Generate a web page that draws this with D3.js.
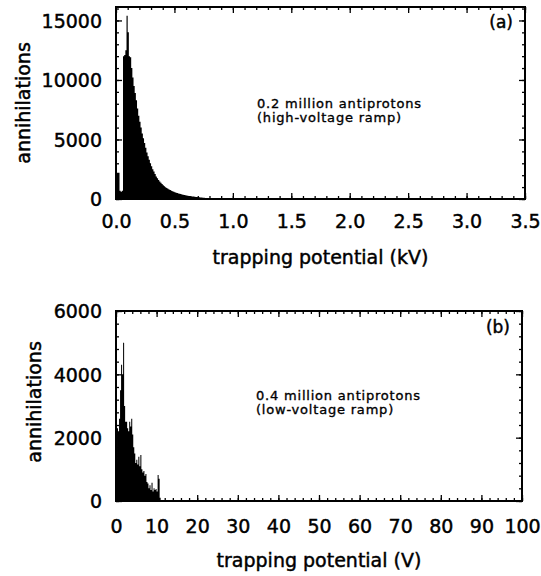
<!DOCTYPE html>
<html>
<head>
<meta charset="utf-8">
<script src="https://cdn.jsdelivr.net/npm/d3@7"></script>
<style>
  html, body { margin: 0; padding: 0; background: #fff; }
  svg { display: block; }
  text { font-family: "DejaVu Sans", "Liberation Sans", Arial, sans-serif; fill: #000; stroke: #000; stroke-width: 0.45px; }
</style>
</head>
<body>
<svg id="chart" width="541" height="576"></svg>
<script>
// ---------------- DATA ----------------
// Panel (a): high-voltage ramp, bins of 0.01 kV starting at 0 kV
const binWidthA = 0.01;
const countsA = [
  2200, 2200, 2200, 700, 600, 700, 12000, 12100, 12500, 15400,
  14000, 12000, 11900, 11000, 10200, 9500, 8900, 8300, 7600, 7000,
  6500, 6000, 5500, 5100, 4700, 4300, 3900, 3600, 3300, 3000,
  2750, 2500, 2300, 2100, 1900, 1750, 1600, 1480, 1370, 1260,
  1160, 1070, 990, 920, 860, 800, 750, 700, 650, 610,
  570, 530, 500, 470, 440, 410, 385, 360, 340, 320,
  300, 280, 260, 245, 230, 215, 200, 185, 170, 160,
  150, 140, 130, 120, 110, 100, 90, 85, 80, 75, 70
];
const xTicksA = [0, 0.5, 1.0, 1.5, 2.0, 2.5, 3.0, 3.5];
const yTicksA = [0, 5000, 10000, 15000];
const xDomainA = [0, 3.5];
const yDomainA = [0, 16130];

// Panel (b): low-voltage ramp, bins of 0.25 V starting at 0 V
const binWidthB = 0.25;
const countsB = [
  1200, 2300, 2200, 2600, 3500, 4300, 4000, 5000, 3000, 2500,
  2500, 2300, 2200, 2500, 2350, 2600, 2100, 1700, 1500, 1200,
  1300, 1150, 1400, 1100, 1450, 1000, 900, 950, 800, 850,
  600, 550, 400, 500, 350, 580, 300, 400, 350, 380,
  300, 820, 700, 100
];
const xTicksB = [0, 10, 20, 30, 40, 50, 60, 70, 80, 90, 100];
const yTicksB = [0, 2000, 4000, 6000];
const xDomainB = [0, 100];
const yDomainB = [0, 6000];

const labels = {
  xTitleA: "trapping potential (kV)",
  xTitleB: "trapping potential (V)",
  yTitle: "annihilations",
  noteA: ["0.2 million antiprotons", "(high-voltage ramp)"],
  noteB: ["0.4 million antiprotons", "(low-voltage ramp)"],
  tagA: "(a)",
  tagB: "(b)"
};

// ---------------- DRAW ----------------
const svg = d3.select("#chart");

function panel(cfg) {
  const { left, right, top, bottom } = cfg;
  const x = d3.scaleLinear().domain(cfg.xDomain).range([left, right]);
  const y = d3.scaleLinear().domain(cfg.yDomain).range([bottom, top]);
  const g = svg.append("g");

  const clipId = "clip" + cfg.id;
  svg.append("clipPath").attr("id", clipId)
    .append("rect").attr("x", left).attr("y", top)
    .attr("width", right - left).attr("height", bottom - top);

  // histogram as step area
  const pts = cfg.counts.map((v, i) => ({ x: i * cfg.binWidth, v }));
  const last = cfg.counts.length;
  pts.push({ x: last * cfg.binWidth, v: cfg.counts[last - 1] });
  const area = d3.area()
    .x(d => x(d.x)).y0(y(0)).y1(d => y(d.v))
    .curve(d3.curveStepAfter);
  g.append("path").datum(pts)
    .attr("clip-path", `url(#${clipId})`)
    .attr("d", area).attr("fill", "#000");

  // ticks (inward) on four sides
  function ticks(axisFn, scale, values, size, transform) {
    const ax = axisFn(scale).tickValues(values).tickSize(-size).tickFormat("");
    const gg = g.append("g").attr("transform", transform).call(ax);
    gg.select(".domain").remove();
    gg.selectAll("line").attr("stroke", "#000").attr("stroke-width", 1.3);
  }
  ticks(d3.axisBottom, x, cfg.xMinor, 3, `translate(0,${bottom})`);
  ticks(d3.axisBottom, x, cfg.xTicks, 6, `translate(0,${bottom})`);
  ticks(d3.axisTop, x, cfg.xMinor, 3, `translate(0,${top})`);
  ticks(d3.axisTop, x, cfg.xTicks, 6, `translate(0,${top})`);
  ticks(d3.axisLeft, y, cfg.yMinor, 3, `translate(${left},0)`);
  ticks(d3.axisLeft, y, cfg.yTicks, 6, `translate(${left},0)`);
  ticks(d3.axisRight, y, cfg.yMinor, 3, `translate(${right},0)`);
  ticks(d3.axisRight, y, cfg.yTicks, 6, `translate(${right},0)`);

  // frame
  g.append("rect").attr("x", left).attr("y", top)
    .attr("width", right - left).attr("height", bottom - top)
    .attr("fill", "none").attr("stroke", "#000").attr("stroke-width", 2);

  // tick labels
  const xa = g.append("g").attr("transform", `translate(0,${bottom})`)
    .call(d3.axisBottom(x).tickValues(cfg.xTicks).tickSize(0).tickFormat(cfg.xFormat));
  xa.select(".domain").remove();
  xa.selectAll("text").attr("y", cfg.xLabelOffset).attr("dy", 0)
    .style("font-size", "19px").style("font-family", null);

  const ya = g.append("g").attr("transform", `translate(${left},0)`)
    .call(d3.axisLeft(y).tickValues(cfg.yTicks).tickSize(0).tickFormat(d3.format("d")));
  ya.select(".domain").remove();
  ya.selectAll("text").attr("x", -14).attr("dy", "0.36em")
    .style("font-size", "19px").style("font-family", null);

  // axis titles
  g.append("text").attr("x", (left + right) / 2).attr("y", cfg.xTitleY)
    .attr("text-anchor", "middle").style("font-size", "19px").text(cfg.xTitle);
  g.append("text")
    .attr("transform", `translate(${cfg.yTitleX},${cfg.yTitleY}) rotate(-90)`)
    .attr("text-anchor", "middle").style("font-size", "19px").text(labels.yTitle);

  // annotation
  cfg.note.forEach((s, i) => {
    g.append("text").attr("x", cfg.noteX).attr("y", cfg.noteY + i * 14)
      .style("font-size", "13px").style("letter-spacing", "0.8px")
      .style("stroke-width", "0.35px").text(s);
  });
  g.append("text").attr("x", right - 12).attr("y", cfg.tagY)
    .attr("text-anchor", "end").style("font-size", "17px").text(cfg.tag);
}

const minorRange = (a, b, s) => d3.range(Math.round(a / s), Math.round(b / s) + 1).map(k => +(k * s).toFixed(6));

panel({
  id: "A", left: 116, right: 525, top: 7, bottom: 199,
  xDomain: xDomainA, yDomain: yDomainA,
  counts: countsA, binWidth: binWidthA,
  xTicks: xTicksA, yTicks: yTicksA,
  xMinor: minorRange(0, 3.5, 0.1), yMinor: minorRange(0, 16000, 1000),
  xFormat: d3.format(".1f"),
  xLabelOffset: 29, xTitleY: 264, xTitle: labels.xTitleA,
  yTitleX: 30, yTitleY: 103,
  note: labels.noteA, noteX: 257, noteY: 108,
  tag: labels.tagA, tagY: 28
});

panel({
  id: "B", left: 116, right: 522, top: 311, bottom: 501,
  xDomain: xDomainB, yDomain: yDomainB,
  counts: countsB, binWidth: binWidthB,
  xTicks: xTicksB, yTicks: yTicksB,
  xMinor: minorRange(0, 100, 2), yMinor: minorRange(0, 6000, 400),
  xFormat: d3.format("d"),
  xLabelOffset: 32, xTitleY: 567, xTitle: labels.xTitleB,
  yTitleX: 41, yTitleY: 402,
  note: labels.noteB, noteX: 256, noteY: 400,
  tag: labels.tagB, tagY: 333
});
</script>
</body>
</html>
